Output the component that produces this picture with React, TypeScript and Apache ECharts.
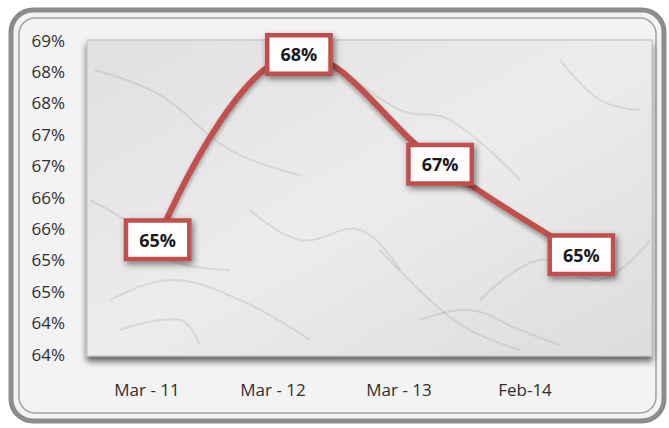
import React, { useEffect, useRef } from "react";
import * as echarts from "echarts";

const categories = ["Mar - 11", "Mar - 12", "Mar - 13", "Feb-14"];
const values = [65.32, 68.27, 66.52, 65.08];
const yMin = 63.5;
const yMax = 68.5;
const yStep = 0.5;

const RED = "#c0504d";
const FONT = "Open Sans";

export default function App() {
  const ref = useRef<HTMLDivElement>(null);
  useEffect(() => {
    const chart = echarts.init(ref.current!, null, { renderer: "svg" });
    const veins = [
      [[95, 70], [160, 95], [230, 150], [300, 175]],
      [[110, 300], [170, 280], [240, 300], [310, 340]],
      [[330, 60], [400, 110], [450, 120], [520, 180]],
      [[480, 300], [540, 260], [600, 280], [650, 240]],
      [[90, 200], [140, 230], [170, 260], [230, 270]],
      [[380, 250], [430, 300], [470, 330], [520, 350]],
      [[560, 60], [600, 100], [640, 110]],
      [[250, 210], [300, 240], [360, 230], [400, 270]],
      [[120, 330], [180, 320], [200, 345]],
      [[420, 320], [470, 310], [520, 330], [560, 345]],
    ];
    chart.setOption({
      animation: false,
      backgroundColor: "#ffffff",
      graphic: [
        {
          type: "rect",
          z: -10,
          shape: { x: 11, y: 10, width: 653, height: 411, r: 22 },
          style: { fill: "#f3f3f3", stroke: "#8c8c8c", lineWidth: 5 },
        },
        {
          type: "rect",
          z: -9,
          shape: { x: 19, y: 18, width: 637, height: 395, r: 16 },
          style: { fill: "none", stroke: "#a0a0a0", lineWidth: 1.5 },
        },
        {
          type: "rect",
          z: -8,
          shape: { x: 87, y: 40, width: 565, height: 316 },
          style: {
            fill: {
              type: "linear",
              x: 0,
              y: 0,
              x2: 1,
              y2: 1,
              colorStops: [
                { offset: 0, color: "#e0e0e0" },
                { offset: 0.5, color: "#ececec" },
                { offset: 1, color: "#dcdcdc" },
              ],
            },
            stroke: "#bdbdbd",
            lineWidth: 1,
            shadowColor: "rgba(0,0,0,0.6)",
            shadowBlur: 6,
            shadowOffsetX: 0,
            shadowOffsetY: 5,
          },
        },
        ...veins.map((pts) => ({
          type: "polyline",
          z: -7,
          shape: { points: pts, smooth: 0.4 },
          style: { fill: "none", stroke: "rgba(110,110,110,0.16)", lineWidth: 2 },
        })),
      ],
      grid: [
        { left: 87, right: 17, top: 40, bottom: 74 },
        { left: 84, right: 81, top: 40, bottom: 74 },
      ],
      xAxis: [
        {
          type: "category",
          gridIndex: 0,
          data: categories,
          boundaryGap: true,
          axisLine: { show: false },
          axisTick: { show: false },
          axisLabel: { show: false },
          splitLine: { show: false },
        },
        {
          type: "category",
          gridIndex: 1,
          data: categories,
          boundaryGap: true,
          axisLine: { show: false },
          axisTick: { show: false },
          splitLine: { show: false },
          axisLabel: {
            margin: 27,
            fontSize: 17,
            fontFamily: FONT,
            color: "#2e2e2e",
          },
        },
      ],
      yAxis: [
        {
          type: "value",
          gridIndex: 0,
          min: yMin,
          max: yMax,
          interval: yStep,
          axisLine: { show: false },
          axisTick: { show: false },
          splitLine: { show: false },
          axisLabel: {
            margin: 22,
            fontSize: 17,
            fontFamily: FONT,
            color: "#2e2e2e",
            formatter: (v: number) => Math.round(v) + "%",
          },
        },
        { type: "value", gridIndex: 1, show: false },
      ],
      series: [
        {
          type: "line",
          xAxisIndex: 0,
          yAxisIndex: 0,
          data: values,
          smooth: 0.4,
          symbol: "circle",
          symbolSize: 2,
          itemStyle: { color: RED },
          lineStyle: {
            color: RED,
            width: 6,
            shadowColor: "rgba(0,0,0,0.35)",
            shadowBlur: 4,
            shadowOffsetY: 3,
          },
          label: {
            show: true,
            position: "inside",
            formatter: (p: any) => Math.round(p.value) + "%",
            backgroundColor: "#ffffff",
            borderColor: RED,
            borderWidth: 4.5,
            padding: [9, 11, 7, 11],
            color: "#1a1a1a",
            fontSize: 18,
            fontWeight: "bold",
            fontFamily: FONT,
            shadowColor: "rgba(0,0,0,0.5)",
            shadowBlur: 6,
            shadowOffsetX: 2,
            shadowOffsetY: 3,
          },
        },
      ],
    });
    return () => chart.dispose();
  }, []);
  return (
    <div
      ref={ref}
      style={{ position: "fixed", left: 0, top: 0, width: 669, height: 428 }}
    />
  );
}
